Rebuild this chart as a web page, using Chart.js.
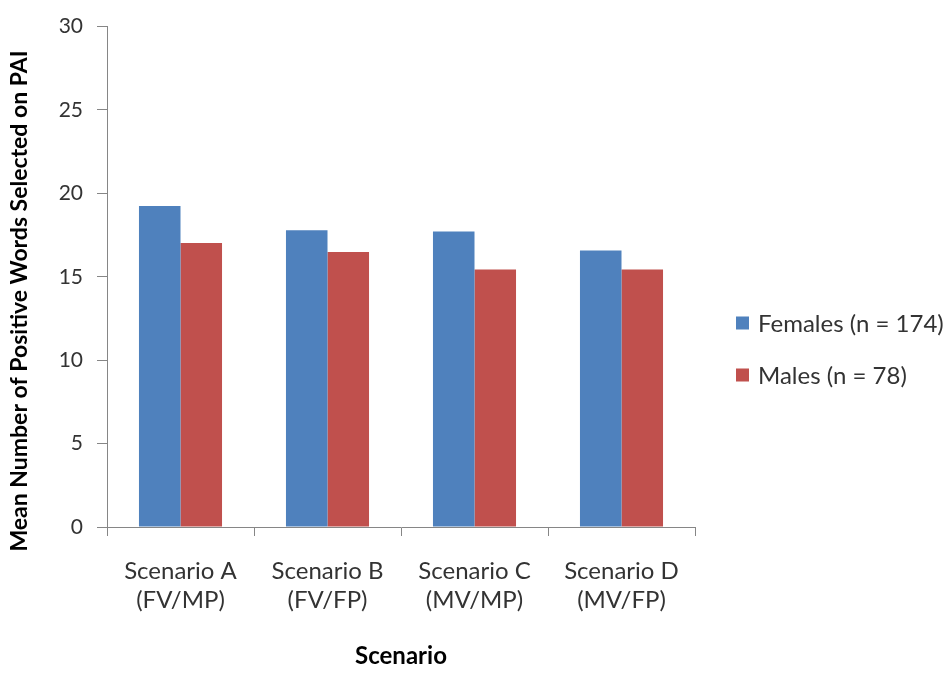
<!DOCTYPE html>
<html>
<head>
<meta charset="utf-8">
<script src="https://cdn.jsdelivr.net/npm/chart.js@4"></script>
<style>
    body { margin: 0; background: #fff; }
    #wrap { width: 951px; height: 673px; }
</style>
</head>
<body>
<div id="wrap"><canvas id="myChart" width="951" height="673"></canvas></div>
<script>
const scenarios = [['Scenario A', '(FV/MP)'], ['Scenario B', '(FV/FP)'], ['Scenario C', '(MV/MP)'], ['Scenario D', '(MV/FP)']];
const females = [19.24, 17.79, 17.71, 16.57];
const males = [17.02, 16.49, 15.44, 15.44];
const yTicks = [0, 5, 10, 15, 20, 25, 30];
const seriesNames = ['Females (n = 174)', 'Males (n = 78)'];
const yTitle = 'Mean Number of Positive Words Selected on PAI';
const xTitle = 'Scenario';

const axisColor = '#868686';
const textColor = '#333333';
const fontName = 'Lato';

let ctx = document.getElementById('myChart');

// rotated y title, centred a bit lower than the plot like the original
const yTitlePlugin = {
    id: 'yTitle',
    afterDraw(chart) {
        let c = chart.ctx;
        c.save();
        c.translate(20, 301);
        c.rotate(-Math.PI / 2);
        c.font = `bold 23px ${fontName}`;
        c.fillStyle = '#000';
        c.textAlign = 'center';
        c.textBaseline = 'middle';
        c.fillText(yTitle, 0, 0);
        c.restore();
    }
};

// legend on the right, drawn by hand so the gaps match
const sideLegend = {
    id: 'sideLegend',
    afterDraw(chart) {
        let c = chart.ctx;
        c.save();
        c.font = `24px ${fontName}`;
        c.textBaseline = 'middle';
        c.textAlign = 'left';
        chart.data.datasets.forEach((ds, i) => {
            let y = 323 + i * 52;
            c.fillStyle = ds.backgroundColor;
            c.fillRect(736, y - 6.5, 13, 13);
            c.fillStyle = textColor;
            c.fillText(ds.label, 758, y + 1);
        });
        c.restore();
    }
};

new Chart(ctx, {
    type: 'bar',
    data: {
        labels: scenarios,
        datasets: [{
            label: seriesNames[0],
            data: females,
            backgroundColor: '#4f81bd',
            borderWidth: 0
        }, {
            label: seriesNames[1],
            data: males,
            backgroundColor: '#c0504d',
            borderWidth: 0
        }]
    },
    options: {
        responsive: false,
        animation: false,
        layout: {
            padding: { top: 22, right: 256, bottom: 0, left: 0 }
        },
        datasets: {
            bar: {
                categoryPercentage: 0.565,
                barPercentage: 1.0
            }
        },
        plugins: {
            legend: { display: false },
            tooltip: { enabled: false }
        },
        scales: {
            x: {
                afterFit: (axis) => { axis.height = 146; },
                grid: {
                    offset: true,
                    drawOnChartArea: false,
                    color: axisColor,
                    tickLength: 9
                },
                border: { color: axisColor, width: 1 },
                ticks: {
                    color: textColor,
                    font: { family: fontName, size: 24 },
                    padding: 21,
                    maxRotation: 0
                },
                title: {
                    display: true,
                    text: xTitle,
                    color: '#000',
                    font: { family: fontName, size: 24, weight: 'bold' },
                    padding: { top: 0, bottom: 2 }
                }
            },
            y: {
                min: 0,
                max: 30,
                afterFit: (axis) => { axis.width = 107; },
                afterBuildTicks: (axis) => {
                    axis.ticks = yTicks.map(v => ({ value: v }));
                },
                grid: {
                    drawOnChartArea: false,
                    color: axisColor,
                    tickLength: 10
                },
                border: { color: axisColor, width: 1 },
                ticks: {
                    color: textColor,
                    font: { family: fontName, size: 21 },
                    padding: 14
                }
            }
        }
    },
    plugins: [yTitlePlugin, sideLegend]
});
</script>
</body>
</html>
